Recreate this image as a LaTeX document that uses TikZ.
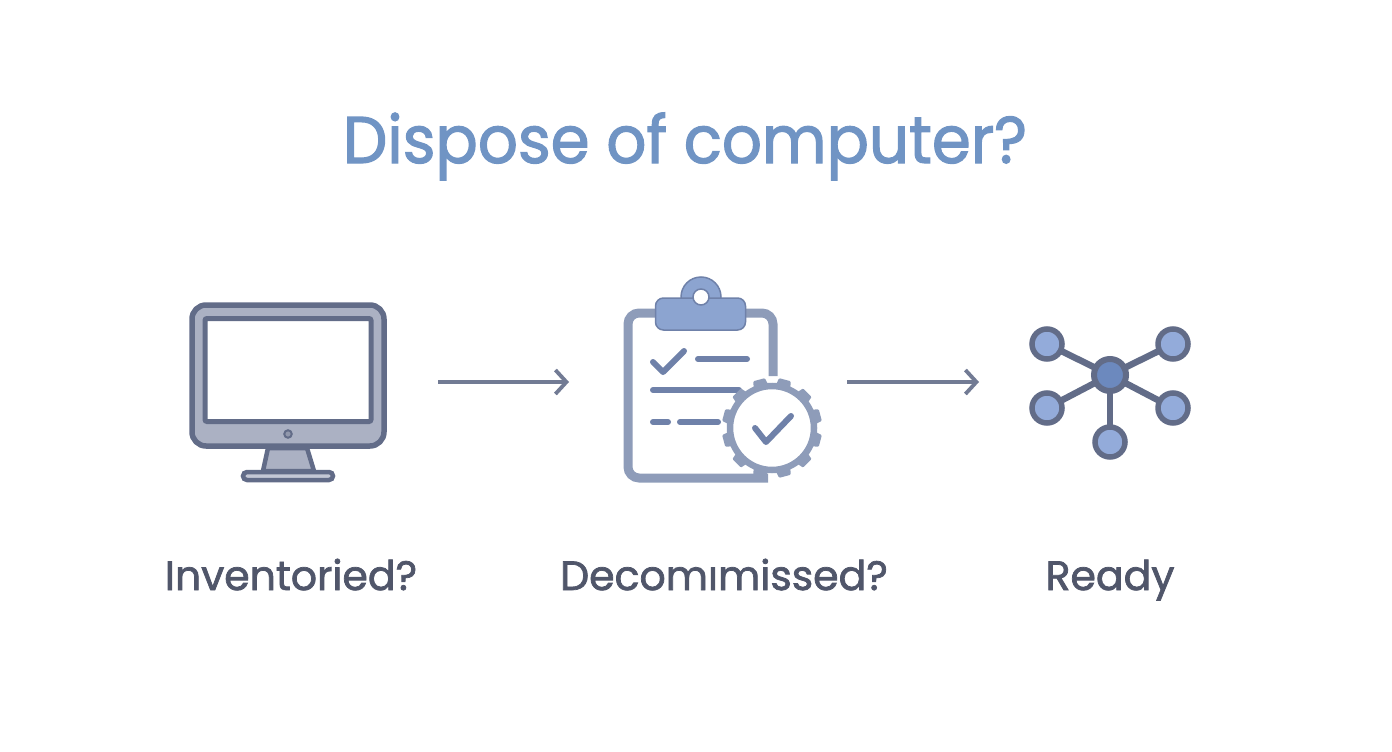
\documentclass[tikz,border=0pt]{standalone}
\usepackage{fontspec}
\setmainfont{Poppins}
\newfontfamily\headfont[FakeBold=1.8,FakeStretch=0.95]{Poppins}
\newfontfamily\capfont[FakeBold=1.8]{Poppins}
\usetikzlibrary{arrows.meta}
\definecolor{slate}{HTML}{626C88}
\definecolor{panel}{HTML}{ABB1C3}
\definecolor{board}{HTML}{8E9CB9}
\definecolor{ink}{HTML}{6F81A9}
\definecolor{clipblue}{HTML}{8CA4D0}
\definecolor{leafblue}{HTML}{93ABDA}
\definecolor{hubblue}{HTML}{6C89BE}
\definecolor{titleblue}{HTML}{7094C4}
\definecolor{labelgray}{HTML}{50566A}
\begin{document}
\begin{tikzpicture}[x=1pt,y=-1pt,>={Straight Barb[length=11pt,width=24pt]},
  slot/.style={inner sep=0pt,outer sep=0pt,minimum height=1pt},
  caption/.style={anchor=base,text=labelgray,font=\capfont\fontsize{41}{41}\selectfont},
  leaf/.style={circle,draw=slate,line width=5.5pt,fill=leafblue,inner sep=0pt,outer sep=0pt,minimum size=30pt},
  tick/.style={draw=ink,line width=6pt,line cap=round,line join=round}]
\useasboundingbox (0,0) rectangle (1392,752);
\draw (685,163) node[anchor=base,text=titleblue,font=\headfont\fontsize{66}{66}\selectfont] (title) {Dispose of computer?};
% monitor
\draw (288,382) node[slot,minimum width=300pt] (mon) {};
\draw[draw=slate,line width=4.5pt,fill=panel,line join=round] (268,448)--(307,448)--(314,471)--(263,471)--cycle;
\draw (288,476) node[rectangle,draw=slate,line width=4.5pt,fill=panel!70,rounded corners=4pt,minimum width=90pt,minimum height=8pt,inner sep=0pt] (foot) {};
\draw (288,375.5) node[rectangle,draw=slate,line width=5.5pt,fill=panel,rounded corners=14pt,minimum width=192pt,minimum height=141pt,inner sep=0pt] (body) {};
\draw (288,370) node[rectangle,draw=slate,line width=5pt,fill=white,rounded corners=2pt,minimum width=166pt,minimum height=103pt,inner sep=0pt] (screen) {};
\draw (288,434) node[circle,draw=slate,line width=2pt,fill=slate!70,minimum size=7.5pt,inner sep=0pt] (btn) {};
% clipboard
\draw (708,382) node[slot,minimum width=278pt] (clip) {};
\draw[draw=board,line width=9pt,fill=white,rounded corners=11pt] (773,376)--(773,313)--(628,313)--(628,478)--(768,478);
\draw[fill=clipblue,draw=ink,line width=1.5pt] (701,297) circle (20);
\draw (700.5,314) node[rectangle,draw=ink,line width=1.5pt,fill=clipblue,rounded corners=8pt,minimum width=90pt,minimum height=32pt,inner sep=0pt] (grip) {};
\draw (701,297) node[circle,draw=ink,line width=1.5pt,fill=white,minimum size=16pt,inner sep=0pt] (hole) {};
\draw[tick] (653,362)--(663,372)--(684,351);
\draw[tick] (698,359)--(747,359);
\draw[tick] (653,390)--(739,390);
\draw[tick] (653,422)--(668,422);
\draw[tick] (680,422)--(718,422);
% gear
\foreach \a in {15,45,...,345}
  \fill[board,rounded corners=1pt,rotate around={\a:(772,428)}] (766,378)--(778,378)--(780,388)--(764,388)--cycle;
\draw (772,428) node[circle,draw=board,line width=6.5pt,fill=white,minimum size=84pt,inner sep=0pt] (gear) {};
\draw[tick] (755,428)--(766,442)--(791,416);
% network
\draw (1110,382) node[slot,minimum width=262pt] (net) {};
\draw (1110,375) node[circle,inner sep=0pt,outer sep=0pt,minimum size=32pt] (hub) {};
\draw (1047,344) node[leaf] (n1) {};
\draw (1173,344) node[leaf] (n2) {};
\draw (1047,408) node[leaf] (n3) {};
\draw (1173,408) node[leaf] (n4) {};
\draw (1110,442) node[leaf] (n5) {};
\foreach \n in {n1,n2,n3,n4,n5}
  \draw[slate,line width=6.5pt] (hub)--(\n);
\draw (1110,375) node[circle,draw=slate,line width=6pt,fill=hubblue,inner sep=0pt,outer sep=0pt,minimum size=32pt] (hubtop) {};
% arrows
\draw[->,draw=slate!90,line width=3.8pt] (mon)--(clip);
\draw[->,draw=slate!90,line width=3.8pt] (clip)--(net);
% labels
\draw (291,590) node[caption] (l1) {Inventoried?};
\draw (724,590) node[caption] (l2) {Decomımissed?};
\draw (1110,590) node[caption] (l3) {Ready};
\end{tikzpicture}
\end{document}
